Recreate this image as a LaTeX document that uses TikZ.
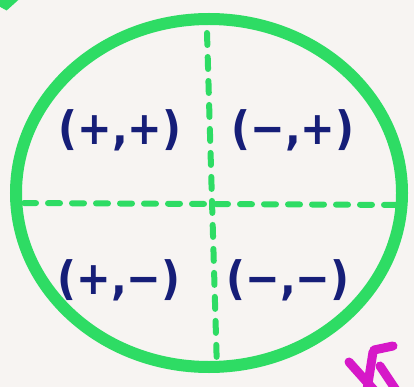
\documentclass[tikz,border=0pt]{standalone}
\usepackage{fontspec}
\setmainfont{DejaVu Sans Condensed}
\definecolor{pen}{RGB}{46,220,100}
\definecolor{ink}{RGB}{22,30,120}
\definecolor{mag}{RGB}{214,24,200}
\definecolor{paper}{RGB}{247,244,242}
\begin{document}
\begin{tikzpicture}[x=1pt,y=-1pt,
  rim/.style={draw=pen,line width=12pt},
  axisline/.style={draw=pen,line width=6pt,line cap=round,dash pattern=on 12pt off 12pt},
  lbl/.style={text=ink,font=\bfseries\fontsize{46}{48}\selectfont,inner sep=0pt},
  magstroke/.style={draw=mag,line width=9pt,line cap=round}]
\fill[paper] (0,0) rectangle (414,387);
\useasboundingbox (0,0) rectangle (414,387);
\draw[rim] (209,193) ellipse [x radius=193, y radius=174];
\coordinate (L) at (24,203);
\coordinate (R) at (404,205);
\coordinate (T) at (207,33);
\coordinate (B) at (217,370);
\draw[axisline] (L) -- (R);
\draw[axisline] (T) -- (B);
\node[lbl] (pp) at (120,130) {(+,+)};
\node[lbl] (mp) at (293,130) {(−,+)};
\node[lbl] (pm) at (119,280) {(+,−)};
\node[lbl] (mm) at (288,280) {(−,−)};
\draw[magstroke] (349,362) -- (374,390);
\draw[magstroke] (374,350) -- (393,346);
\draw[magstroke] (373,352) -- (367,390);
\draw[magstroke] (380,366) -- (396,390);
\draw[pen,line width=9pt,line cap=round] (-3,0) -- (6,5) -- (16,-4);
\end{tikzpicture}
\end{document}
